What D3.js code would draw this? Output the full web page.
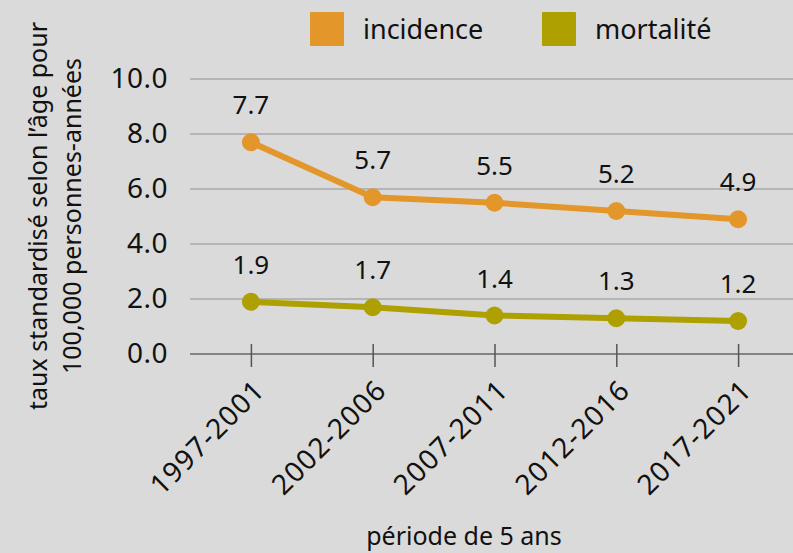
<!DOCTYPE html>
<html><head><meta charset="utf-8">
<script src="https://cdn.jsdelivr.net/npm/d3@7"></script>
<style>html,body{margin:0;padding:0;background:#dadada;}svg{display:block;}</style>
</head><body>
<script>
const categories = ["1997-2001","2002-2006","2007-2011","2012-2016","2017-2021"];
const incidence = [7.7, 5.7, 5.5, 5.2, 4.9];
const mortalite = [1.9, 1.7, 1.4, 1.3, 1.2];
const seriesNames = ["incidence","mortalité"];
const seriesColors = ["#e3962a","#ada000"];
const yTicks = [0,2,4,6,8,10];
const yTitle = ["taux standardisé selon l’âge pour","100,000 personnes-années"];
const xTitle = "période de 5 ans";

const W = 793, H = 553;
const font = "'Noto Sans', 'Open Sans', sans-serif";
const svg = d3.select("body").append("svg").attr("width", W).attr("height", H)
  .style("background", "#dadada").style("font-family", font);

const x = d3.scalePoint().domain(categories).range([190, 799]).padding(0.5);
const y = d3.scaleLinear().domain([0, 10]).range([354, 79]);

// gridlines
svg.append("g").selectAll("line").data(yTicks.filter(d => d > 0)).join("line")
  .attr("x1", 190).attr("x2", W).attr("y1", d => y(d)).attr("y2", d => y(d))
  .attr("stroke", "#a8a8a8").attr("stroke-width", 1.3);

// y axis labels
const yAxis = d3.axisLeft(y).tickValues(yTicks).tickFormat(d3.format(".1f")).tickSize(0).tickPadding(0);
const gy = svg.append("g").attr("transform", "translate(168,0)").call(yAxis);
gy.select(".domain").remove();
gy.selectAll("text").attr("font-size", 28).attr("fill", "#111").attr("font-family", font)
  .attr("letter-spacing", 0.5);

// x axis
const xAxis = d3.axisBottom(x).tickSizeInner(12).tickSizeOuter(0).tickPadding(14);
const gx = svg.append("g").attr("transform", "translate(0,354)").call(xAxis);
gx.select(".domain").attr("d", `M190,0H${W}`).attr("stroke", "#666").attr("stroke-width", 1.5);
gx.selectAll(".tick line").attr("y1", -10).attr("y2", 13).attr("stroke", "#555").attr("stroke-width", 1.5);
gx.selectAll(".tick text")
  .attr("font-size", 28).attr("fill", "#111").attr("font-family", font)
  .attr("letter-spacing", 1.2)
  .attr("text-anchor", "end").attr("dy", "0.35em")
  .attr("transform", "translate(8,31) rotate(-45)").attr("x", 0).attr("y", 0);

// series
const series = [incidence, mortalite];
const line = d3.line().x((d, i) => x(categories[i])).y(d => y(d));
series.forEach((vals, si) => {
  const g = svg.append("g");
  g.append("path").datum(vals).attr("d", line).attr("fill", "none")
    .attr("stroke", seriesColors[si]).attr("stroke-width", 6).attr("stroke-linejoin", "round");
  g.selectAll("circle").data(vals).join("circle")
    .attr("cx", (d, i) => x(categories[i])).attr("cy", d => y(d)).attr("r", 9)
    .attr("fill", seriesColors[si]);
  g.selectAll("text").data(vals).join("text")
    .attr("x", (d, i) => x(categories[i])).attr("y", d => y(d) - 37)
    .attr("dy", "0.35em").attr("text-anchor", "middle")
    .attr("font-size", 26).attr("fill", "#111")
    .text(d => d3.format(".1f")(d));
});

// legend
const legX = [310, 542];
seriesNames.forEach((n, i) => {
  svg.append("rect").attr("x", legX[i]).attr("y", 12).attr("width", 34).attr("height", 34)
    .attr("rx", 1).attr("fill", seriesColors[i]);
  svg.append("text").attr("x", legX[i] + 53).attr("y", 30).attr("dy", "0.35em")
    .attr("font-size", 27).attr("fill", "#111").text(n);
});

// y title
const yt = svg.append("text").attr("transform", "translate(55,216) rotate(-90)")
  .attr("text-anchor", "middle").attr("font-size", 25).attr("fill", "#111");
yt.append("tspan").attr("x", 0).attr("y", -17).attr("dy", "0.35em").text(yTitle[0]);
yt.append("tspan").attr("x", 0).attr("y", 17).attr("dy", "0.35em").text(yTitle[1]);

// x title
svg.append("text").attr("x", 464).attr("y", 545)
  .attr("text-anchor", "middle").attr("font-size", 25).attr("fill", "#111").text(xTitle);
</script>
</body></html>
